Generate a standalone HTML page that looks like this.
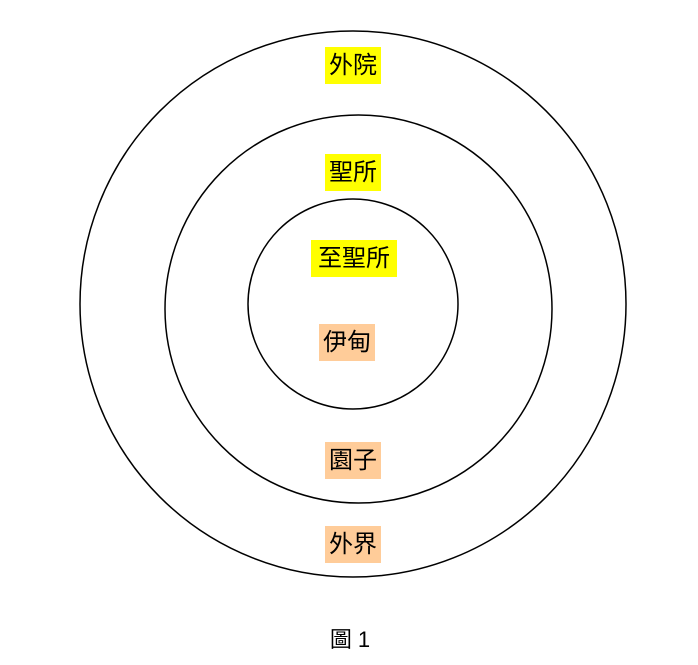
<!DOCTYPE html>
<html><head><meta charset="utf-8"><style>
body{margin:0;background:#fff;width:698px;height:665px;position:relative;overflow:hidden;font-family:"Liberation Sans","Noto Sans CJK TC",sans-serif}
.l{position:absolute;height:37px;line-height:37px;font-size:24px;text-align:center;color:#000}
.y{background:#ffff00}.o{background:#ffcc99}
</style></head><body>
<svg width="698" height="665" style="position:absolute;left:0;top:0">
<ellipse cx="353" cy="304" rx="273" ry="273" fill="none" stroke="#000" stroke-width="1.5"/>
<ellipse cx="358.5" cy="309" rx="193.5" ry="194" fill="none" stroke="#000" stroke-width="1.5"/>
<ellipse cx="353" cy="304" rx="105" ry="105" fill="none" stroke="#000" stroke-width="1.5"/>
</svg>
<div class="l y" style="left:325px;top:47px;width:56px">外院</div>
<div class="l y" style="left:325px;top:154px;width:56px">聖所</div>
<div class="l y" style="left:311px;top:240px;width:86px">至聖所</div>
<div class="l o" style="left:319px;top:324px;width:56px">伊甸</div>
<div class="l o" style="left:325px;top:442px;width:56px">園子</div>
<div class="l o" style="left:325px;top:526px;width:56px">外界</div>
<div class="l" style="left:310px;top:621px;width:80px;font-size:22px">圖 1</div>
</body></html>
